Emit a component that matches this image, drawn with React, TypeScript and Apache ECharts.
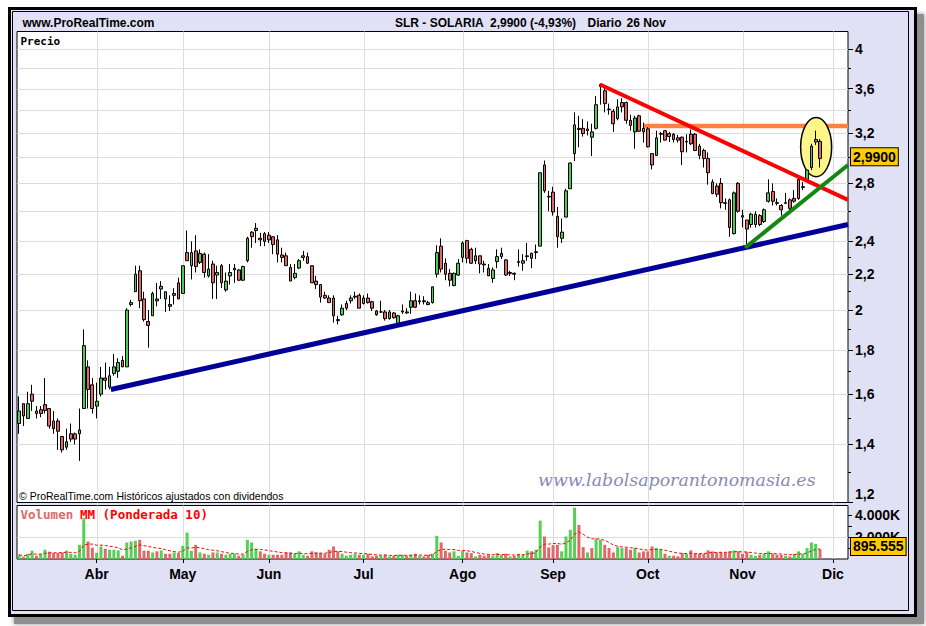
import React, { useEffect, useRef } from 'react';
import * as echarts from 'echarts';

// ---------- DATA ----------
const open = [
  1.48,1.56,1.50,1.60,1.53,1.535,1.556,1.54,1.49,1.49,
  1.43,1.39,1.44,1.44,1.44,1.54,1.72,1.64,1.55,1.60,
  1.67,1.63,1.69,1.70,1.75,1.72,2.03,2.10,2.22,2.06,
  1.94,1.97,2.06,2.115,2.06,2.03,2.09,2.15,2.09,2.33,
  2.25,2.34,2.27,2.32,2.19,2.26,2.195,2.25,2.11,2.19,
  2.235,2.225,2.165,2.28,2.46,2.47,2.42,2.45,2.44,2.43,
  2.41,2.315,2.31,2.24,2.18,2.236,2.30,2.305,2.25,2.16,
  2.14,2.08,2.065,2.065,1.95,1.975,2.035,2.05,2.07,2.08,
  2.035,2.065,2.045,1.995,1.99,1.99,1.955,1.985,1.93,1.99,
  1.985,2.015,2.05,2.045,2.05,2.04,2.04,2.20,2.37,2.265,
  2.205,2.135,2.195,2.30,2.405,2.35,2.28,2.31,2.26,2.235,
  2.175,2.275,2.325,2.285,2.21,2.205,2.27,2.265,2.305,2.325,
  2.33,2.37,2.94,2.70,2.735,2.565,2.42,2.56,2.76,3.03,
  3.24,3.24,3.235,3.165,3.24,3.62,3.58,3.41,3.39,3.325,
  3.47,3.47,3.31,3.21,3.35,3.24,3.236,3.03,3.015,3.19,
  3.22,3.195,3.19,3.16,3.165,3.13,3.19,3.19,3.09,3.055,
  2.99,2.81,2.78,2.80,2.66,2.68,2.45,2.80,2.57,2.54,
  2.51,2.51,2.57,2.53,2.67,2.74,2.66,2.64,2.655,2.68,
  2.69,2.83,2.775,2.83,2.92,3.125,3.13,
];
const close = [
  1.53,1.51,1.56,1.57,1.52,1.52,1.532,1.47,1.46,1.45,
  1.38,1.41,1.42,1.42,1.455,1.82,1.62,1.54,1.57,1.67,
  1.66,1.68,1.72,1.74,1.72,2.00,2.04,2.20,2.05,1.95,
  1.92,2.09,2.05,2.13,2.10,2.02,2.08,2.06,2.25,2.28,
  2.33,2.245,2.325,2.21,2.23,2.15,2.21,2.15,2.16,2.21,
  2.225,2.165,2.245,2.42,2.43,2.485,2.41,2.40,2.41,2.38,
  2.32,2.30,2.25,2.16,2.205,2.28,2.31,2.265,2.15,2.14,
  2.07,2.065,2.04,1.97,1.945,2.01,2.01,2.065,2.075,2.01,
  2.065,2.04,2.01,1.975,1.99,1.955,1.99,1.96,1.97,1.995,
  1.99,2.05,2.015,2.05,2.045,2.03,2.127,2.33,2.23,2.20,
  2.165,2.205,2.265,2.39,2.295,2.265,2.31,2.26,2.255,2.19,
  2.225,2.305,2.305,2.195,2.205,2.20,2.275,2.28,2.31,2.295,
  2.335,2.88,2.745,2.705,2.595,2.43,2.46,2.745,2.955,3.27,
  3.23,3.195,3.22,3.21,3.45,3.64,3.46,3.405,3.28,3.43,
  3.43,3.31,3.265,3.33,3.215,3.21,3.085,2.94,3.16,3.195,
  3.14,3.17,3.145,3.14,3.045,3.125,3.11,3.055,3.015,2.99,
  2.88,2.725,2.72,2.66,2.655,2.49,2.73,2.60,2.56,2.48,
  2.58,2.58,2.51,2.61,2.73,2.67,2.655,2.61,2.66,2.62,
  2.67,2.69,2.77,2.90,3.09,3.145,2.99,
];
const high = [
  1.59,1.56,1.61,1.64,1.55,1.55,1.67,1.54,1.53,1.50,
  1.43,1.46,1.48,1.445,1.54,1.90,1.75,1.67,1.65,1.72,
  1.74,1.72,1.78,1.76,1.77,2.01,2.055,2.25,2.25,2.10,
  2.00,2.10,2.15,2.16,2.10,2.08,2.12,2.18,2.25,2.47,
  2.40,2.44,2.35,2.33,2.32,2.28,2.25,2.26,2.21,2.26,
  2.26,2.23,2.25,2.43,2.465,2.52,2.455,2.46,2.46,2.43,
  2.44,2.36,2.33,2.26,2.26,2.29,2.34,2.33,2.25,2.19,
  2.14,2.10,2.08,2.08,1.97,2.03,2.05,2.08,2.10,2.09,
  2.08,2.09,2.05,2.00,2.05,2.00,2.00,1.99,1.975,2.03,
  2.01,2.10,2.09,2.08,2.075,2.05,2.13,2.375,2.42,2.295,
  2.23,2.21,2.29,2.40,2.41,2.36,2.36,2.31,2.28,2.26,
  2.24,2.35,2.36,2.29,2.22,2.21,2.35,2.32,2.39,2.33,
  2.38,2.88,2.975,2.745,2.775,2.63,2.55,2.76,2.96,3.38,
  3.35,3.32,3.30,3.28,3.53,3.65,3.61,3.46,3.41,3.50,
  3.51,3.48,3.36,3.35,3.36,3.29,3.25,3.03,3.22,3.21,
  3.225,3.21,3.20,3.185,3.17,3.19,3.23,3.20,3.11,3.07,
  3.04,2.83,2.80,2.84,2.69,2.69,2.74,2.81,2.61,2.54,
  2.59,2.60,2.58,2.62,2.83,2.80,2.69,2.65,2.73,2.69,
  2.75,2.86,2.81,2.90,3.11,3.22,3.15,
];
const low = [
  1.44,1.47,1.50,1.53,1.50,1.505,1.52,1.46,1.44,1.38,
  1.37,1.38,1.41,1.40,1.34,1.54,1.54,1.52,1.50,1.59,
  1.62,1.62,1.68,1.67,1.72,1.72,2.02,2.10,2.01,1.94,
  1.81,1.97,2.02,2.06,1.99,1.995,2.03,2.06,2.09,2.28,
  2.17,2.21,2.26,2.18,2.18,2.06,2.06,2.12,2.10,2.14,
  2.15,2.16,2.16,2.27,2.36,2.39,2.37,2.37,2.39,2.32,
  2.27,2.27,2.25,2.16,2.17,2.23,2.28,2.26,2.15,2.115,
  2.04,2.06,2.04,1.935,1.925,1.97,2.00,2.035,2.06,2.01,
  2.03,2.035,1.995,1.97,1.985,1.945,1.95,1.955,1.93,1.98,
  1.98,1.98,2.01,2.03,2.03,2.025,2.035,2.18,2.21,2.165,
  2.13,2.13,2.19,2.27,2.265,2.26,2.26,2.205,2.21,2.19,
  2.15,2.235,2.29,2.19,2.19,2.165,2.245,2.22,2.28,2.235,
  2.29,2.37,2.73,2.60,2.57,2.36,2.39,2.56,2.76,2.97,
  3.08,3.17,3.18,3.01,3.23,3.45,3.38,3.36,3.21,3.31,
  3.38,3.28,3.22,3.07,3.21,3.12,3.08,2.905,3.01,3.12,
  3.14,3.125,3.12,3.12,2.94,3.04,3.10,3.05,2.985,2.92,
  2.79,2.72,2.70,2.62,2.61,2.43,2.445,2.59,2.49,2.36,
  2.49,2.49,2.50,2.52,2.66,2.64,2.64,2.57,2.65,2.61,
  2.66,2.68,2.75,2.82,2.90,3.10,2.92,
];
// volume in thousands of shares
const volume = [
  390,210,480,760,300,480,850,670,545,545,
  600,760,480,390,1300,3730,1600,1030,575,1150,
  940,850,850,790,300,1515,1600,1670,1760,760,
  760,600,700,790,480,480,600,545,1210,2420,
  760,1300,600,480,390,600,600,480,390,480,
  480,300,390,1760,1515,940,700,480,390,390,
  390,390,600,600,480,700,390,300,700,600,
  545,480,850,1150,700,480,300,390,480,390,
  390,480,240,300,300,390,240,300,390,390,
  300,390,480,300,240,390,480,2120,1515,760,
  600,700,300,760,600,545,240,390,300,390,
  300,545,390,480,240,300,480,390,760,700,
  850,3515,2060,1060,1270,1300,700,2060,2670,4700,
  3120,1090,600,1000,1850,1760,1300,1000,600,1090,
  1000,1000,850,1000,600,700,700,1150,1000,850,
  480,300,300,240,545,480,790,480,480,480,
  790,700,600,600,600,700,790,700,480,640,
  390,300,390,480,700,480,390,390,300,240,
  480,700,480,1000,1515,1390,895.555,
];

// Trading calendar (category axis)
const firstDay = '2009-03-06';
const lastAxisDay = '2009-12-04';
const holidays = ['2009-04-10', '2009-04-13', '2009-05-01'];
const monthNames = ['Ene', 'Feb', 'Mar', 'Abr', 'May', 'Jun', 'Jul', 'Ago', 'Sep', 'Oct', 'Nov', 'Dic'];

// Axis ticks / grid lines
const priceLabelTicks = [4, 3.6, 3.2, 2.8, 2.4, 2.2, 2, 1.8, 1.6, 1.4, 1.2];
const priceMinorTicks = [3.8, 3.4, 3.0, 2.6, 2.3, 2.1, 1.9, 1.7, 1.5, 1.3];
const priceGridLines = [4, 3.8, 3.6, 3.4, 3.2, 3.0, 2.8, 2.6, 2.4, 2.2, 2.0, 1.8, 1.6, 1.4];
const priceMin = 1.2;
const priceMax = 4.19;
const volumeTicks = [1000, 2000, 3000, 4000];
const volumeLabelTicks = [2000, 4000];
const volumeGridLines = [2000];
const volumeMax = 4900;

const lastPriceText = '2,9900';
const lastVolumeText = '895.555';

// Drawn trend lines: [category position, price]
const supportLine = [[21.3, 1.62], [192.5, 2.51]];
const resistanceLine = [[134.9, 3.64], [192.5, 2.68]];
const shortSupportLine = [[168.6, 2.36], [192.5, 2.94]];
const levelLine = [[144.9, 3.26], [192.5, 3.26]];
// Highlight ellipse: [from category, to category, low price, high price]
const highlightEllipse = [181.5, 188.7, 2.85, 3.335];

// ---------- helpers ----------
function buildDates() {
  const out: string[] = [];
  const d = new Date(firstDay + 'T00:00:00Z');
  const end = new Date(lastAxisDay + 'T00:00:00Z');
  while (d <= end) {
    const wd = d.getUTCDay();
    const s = d.toISOString().slice(0, 10);
    if (wd !== 0 && wd !== 6 && holidays.indexOf(s) < 0) out.push(s);
    d.setUTCDate(d.getUTCDate() + 1);
  }
  return out;
}

function weightedMA(values: number[], n: number) {
  return values.map((_, i) => {
    let num = 0, den = 0;
    for (let k = 0; k < n && i - k >= 0; k++) {
      const w = n - k;
      num += values[i - k] * w;
      den += w;
    }
    return +(num / den).toFixed(1);
  });
}

const FONT = '"Liberation Sans", Arial, sans-serif';
const GRID_COLOR = '#DCDCDC';

function buildOption() {
  const L = Math.log;
  const dates = buildDates();
  const N = dates.length;
  const monthStarts: number[] = [];
  for (let i = 1; i < N; i++) {
    if (dates[i].slice(5, 7) !== dates[i - 1].slice(5, 7)) monthStarts.push(i);
  }
  const monthSet = new Set(monthStarts);
  const yMin = L(priceMin);
  const yMax = L(priceMax);

  const candles = open.map((o, i) => [L(o), L(close[i]), L(low[i]), L(high[i])]);
  const volData = volume.map((v, i) => ({
    value: v,
    itemStyle: { color: i === 0 || close[i] >= close[i - 1] ? '#55CF55' : '#E06868' },
  }));
  const volMA = weightedMA(volume, 10);

  const hLines = (xAxisIndex: number, yAxisIndex: number, vals: number[]) => ({
    type: 'custom', xAxisIndex, yAxisIndex, silent: true, z: 1,
    data: vals.map((v) => [0, v]),
    renderItem: (params: any, api: any) => {
      const cs = params.coordSys;
      const y = Math.round(api.coord([0, api.value(1)])[1]) + 0.5;
      return { type: 'line', shape: { x1: cs.x, y1: y, x2: cs.x + cs.width, y2: y }, style: { stroke: GRID_COLOR, lineWidth: 1 } };
    },
  });
  const vLines = (xAxisIndex: number, yAxisIndex: number, yVal: number) => ({
    type: 'custom', xAxisIndex, yAxisIndex, silent: true, z: 1,
    data: monthStarts.map((i) => [i, yVal]),
    renderItem: (params: any, api: any) => {
      const cs = params.coordSys;
      const x = Math.round(api.coord([api.value(0), api.value(1)])[0]) + 0.5;
      return { type: 'line', shape: { x1: x, y1: cs.y, x2: x, y2: cs.y + cs.height }, style: { stroke: GRID_COLOR, lineWidth: 1 } };
    },
  });
  const trend = (pts: number[][], color: string, width: number, z: number) => ({
    type: 'line', xAxisIndex: 2, yAxisIndex: 0, silent: true, z,
    symbol: 'none', clip: true,
    data: pts.map(([x, p]) => [x, L(p)]),
    lineStyle: { color, width, cap: 'butt' },
  });

  const priceFormatter = (v: number) => {
    const p = Math.round(Math.exp(v) * 10) / 10;
    const s = String(p).replace('.', ',');
    return p === priceMin ? '{low|' + s + '}' : s;
  };

  const boldLabel = { fontWeight: 'bold', fontSize: 14, color: '#000', fontFamily: FONT };
  const tagLabel = (text: string) => ({
    show: true, position: 'end', formatter: text, ...boldLabel,
    backgroundColor: '#FFCC00', borderColor: '#000', borderWidth: 1, padding: [2, 2, 1, 2], distance: 3,
  });

  const txt = (text: string, x: number, y: number, font: string, fill = '#000') => ({
    type: 'text', x, y, z: 50, silent: true,
    style: { text, font, fill, verticalAlign: 'middle', align: 'left' },
  });

  return {
    animation: false,
    backgroundColor: '#ffffff',
    textStyle: { fontFamily: FONT },
    graphic: [
      { type: 'rect', z: -30, silent: true, shape: { x: 14, y: 14, width: 910, height: 610 },
        style: { fill: '#8f8f8f', shadowBlur: 5, shadowColor: 'rgba(0,0,0,0.45)' } },
      { type: 'rect', z: -20, silent: true, shape: { x: 9.5, y: 8.5, width: 906, height: 607 },
        style: { fill: '#E1E1F5', stroke: '#000', lineWidth: 3 } },
      { type: 'rect', z: -10, silent: true, shape: { x: 12.5, y: 11.5, width: 896, height: 599 },
        style: { fill: 'none', stroke: '#000', lineWidth: 1 } },
      txt('www.ProRealTime.com', 22.5, 22.5, 'bold 12px ' + FONT),
      txt('SLR - SOLARIA', 395, 22.5, 'bold 12px ' + FONT),
      txt('2,9900 (-4,93%)', 490, 22.5, 'bold 12px ' + FONT),
      txt('Diario', 587.5, 22.5, 'bold 12px ' + FONT),
      txt('26 Nov', 626.5, 22.5, 'bold 12px ' + FONT),
      txt('Precio', 20.5, 41, 'bold 11px "DejaVu Sans Mono", monospace'),
      txt('© ProRealTime.com', 19, 495.5, '10.5px ' + FONT),
      txt('Históricos ajustados con dividendos', 116.5, 495.5, '10.5px ' + FONT),
      txt('www.labolsaporantonomasia.es', 538, 480, 'italic 17.4px "DejaVu Serif", serif', '#8A8AB2'),
      txt('Volumen', 20.5, 514.5, 'bold 12.5px "DejaVu Sans Mono", monospace', '#E06868'),
      txt('MM (Ponderada 10)', 80, 514.5, 'bold 12.5px "DejaVu Sans Mono", monospace', '#FF0000'),
    ],
    grid: [
      { left: 17, top: 31.5, width: 831, height: 471, show: true, backgroundColor: '#fff', borderColor: '#000', borderWidth: 1 },
      { left: 17, top: 505.5, width: 831, height: 53.5, show: true, backgroundColor: '#fff', borderColor: '#000', borderWidth: 1 },
    ],
    xAxis: [
      { type: 'category', gridIndex: 0, data: dates, boundaryGap: true,
        axisLine: { show: false, onZero: false }, axisTick: { show: false }, axisLabel: { show: false }, splitLine: { show: false } },
      { type: 'category', gridIndex: 1, data: dates, boundaryGap: true,
        axisLine: { show: false, onZero: false },
        axisTick: { show: true, alignWithLabel: true, interval: (i: number) => monthSet.has(i), length: 4, lineStyle: { color: '#000', width: 1 } },
        axisLabel: { interval: (i: number) => monthSet.has(i), formatter: (v: string) => monthNames[parseInt(v.slice(5, 7), 10) - 1], ...boldLabel, margin: 8 },
        splitLine: { show: false } },
      { type: 'value', gridIndex: 0, min: -0.5, max: N - 0.5, show: false },
    ],
    yAxis: [
      { type: 'value', gridIndex: 0, position: 'right', min: yMin, max: yMax,
        axisLine: { show: false, onZero: false },
        axisTick: { show: true, customValues: priceLabelTicks.map(L), length: 5, lineStyle: { color: '#000' } },
        axisLabel: { customValues: priceLabelTicks.map(L), formatter: priceFormatter, ...boldLabel, margin: 7,
          rich: { low: { ...boldLabel, padding: [0, 0, 17, 0] } } },
        splitLine: { show: false } },
      { type: 'value', gridIndex: 0, position: 'right', min: yMin, max: yMax,
        axisLine: { show: false, onZero: false },
        axisTick: { show: true, customValues: priceMinorTicks.map(L), length: 3, lineStyle: { color: '#000' } },
        axisLabel: { show: false }, splitLine: { show: false } },
      { type: 'value', gridIndex: 1, position: 'right', min: 0, max: volumeMax,
        axisLine: { show: false, onZero: false },
        axisTick: { show: true, customValues: volumeTicks, length: 4, lineStyle: { color: '#000' } },
        axisLabel: { customValues: volumeLabelTicks, formatter: (v: number) => v / 1000 + '.000K', ...boldLabel, margin: 7 },
        splitLine: { show: false } },
    ],
    series: [
      hLines(0, 0, priceGridLines.map(L)),
      vLines(0, 0, yMin),
      hLines(1, 2, volumeGridLines),
      vLines(1, 2, 0),
      trend(levelLine, '#FF8040', 4.5, 2),
      {
        type: 'custom', xAxisIndex: 2, yAxisIndex: 0, silent: true, z: 3,
        data: [[highlightEllipse[0], highlightEllipse[1], L(highlightEllipse[2]), L(highlightEllipse[3])]],
        encode: { x: [0, 1], y: [2, 3] },
        renderItem: (params: any, api: any) => {
          const p1 = api.coord([api.value(0), api.value(3)]);
          const p2 = api.coord([api.value(1), api.value(2)]);
          return {
            type: 'ellipse',
            shape: { cx: (p1[0] + p2[0]) / 2, cy: (p1[1] + p2[1]) / 2, rx: Math.abs(p2[0] - p1[0]) / 2, ry: Math.abs(p2[1] - p1[1]) / 2 },
            style: { fill: '#FFF68A', stroke: '#000', lineWidth: 1.5 },
          };
        },
      },
      {
        type: 'candlestick', xAxisIndex: 0, yAxisIndex: 0, z: 4, barWidth: 3.2,
        data: candles,
        itemStyle: { color: '#4CCB4C', color0: '#E06666', borderColor: '#000', borderColor0: '#000', borderColorDoji: '#000', borderWidth: 1 },
        markLine: {
          silent: true, symbol: ['none', 'none'], animation: false,
          lineStyle: { color: 'rgba(0,0,0,0)', width: 0 },
          label: tagLabel(lastPriceText),
          data: [{ yAxis: L(close[close.length - 1]) }],
        },
      },
      trend(supportLine, '#000099', 5, 5),
      trend(resistanceLine, '#FF0000', 4, 5),
      trend(shortSupportLine, '#118811', 4, 5),
      {
        type: 'bar', xAxisIndex: 1, yAxisIndex: 2, z: 3, barWidth: 3,
        data: volData,
      },
      {
        type: 'line', xAxisIndex: 1, yAxisIndex: 2, z: 6, symbol: 'none', silent: true,
        data: volMA,
        lineStyle: { color: '#FF0000', width: 1, type: [3, 2] },
        markLine: {
          silent: true, symbol: ['none', 'none'], animation: false,
          lineStyle: { color: 'rgba(0,0,0,0)', width: 0, type: 'solid' },
          label: tagLabel(lastVolumeText),
          data: [{ yAxis: volume[volume.length - 1] + 250 }],
        },
      },
    ],
  };
}

export default function App() {
  const ref = useRef<HTMLDivElement>(null);
  useEffect(() => {
    document.body.style.margin = '0';
    const chart = echarts.init(ref.current as HTMLDivElement, null, { renderer: 'svg' });
    chart.setOption(buildOption() as any);
    return () => chart.dispose();
  }, []);
  return <div ref={ref} style={{ width: 926, height: 626 }} />;
}
